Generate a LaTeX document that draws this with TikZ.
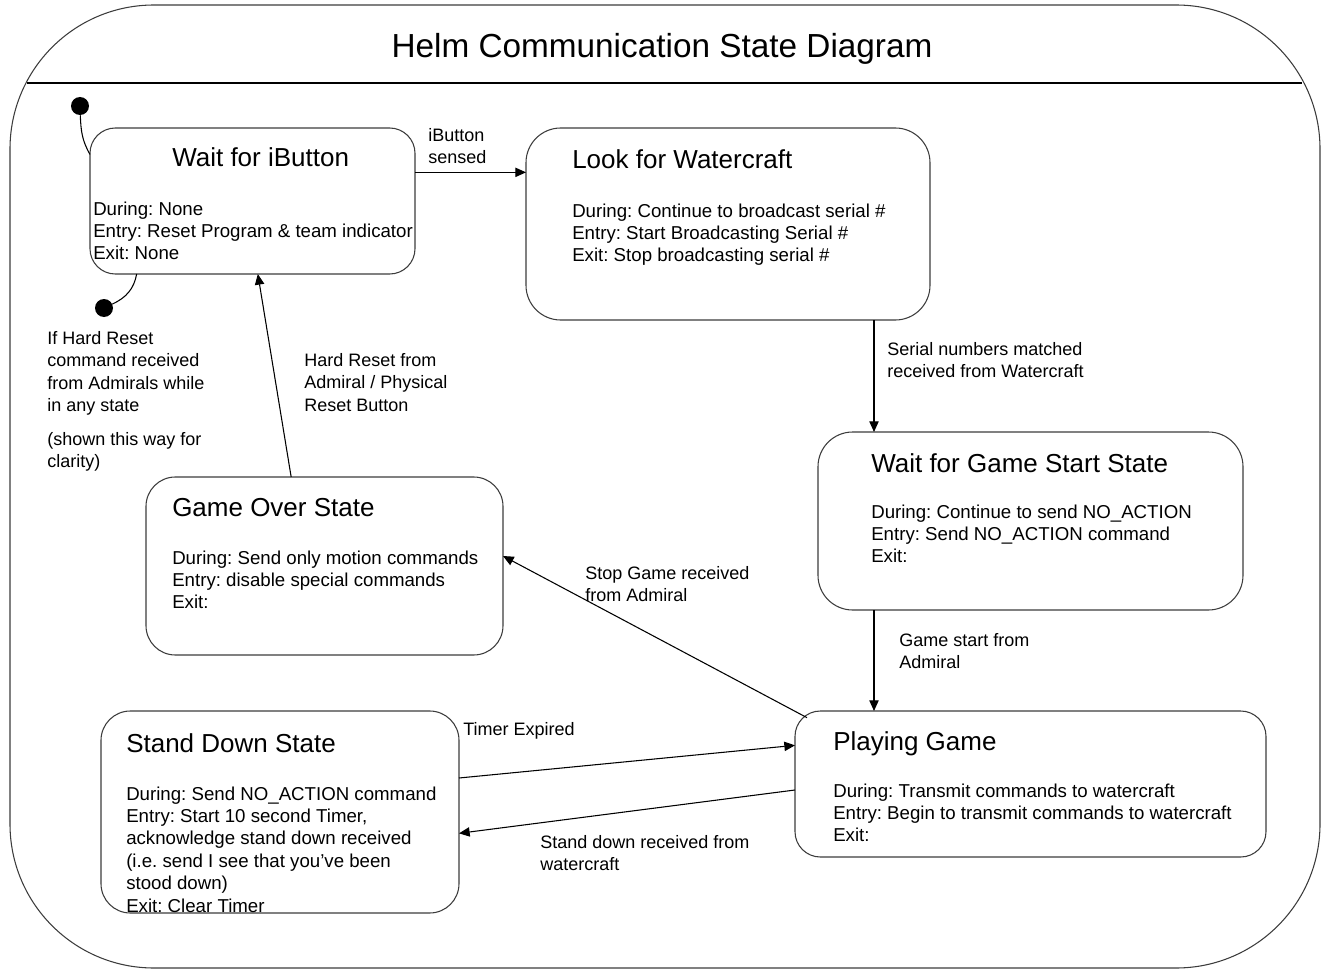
\documentclass[tikz,border=0pt]{standalone}
\usepackage{fontspec}
\setmainfont{Liberation Sans}
\usetikzlibrary{arrows.meta, positioning, calc}
\definecolor{outline}{RGB}{60,60,60}
\frenchspacing

\begin{document}
\begin{tikzpicture}[
    x=0.75pt, y=-0.75pt,
    state/.style={draw=outline, line width=0.8pt, inner sep=0pt, outer sep=0pt},
    statename/.style={anchor=base west, inner sep=0pt, font=\fontsize{19.5}{23}\selectfont},
    statebody/.style={anchor=north west, inner sep=0pt, align=left, font=\fontsize{14}{16.8}\selectfont},
    translabel/.style={anchor=north west, inner sep=0pt, align=left, font=\fontsize{13.5}{16.7}\selectfont},
    arrow/.style={-{Triangle[length=8pt, width=7pt]}, line width=0.8pt},
    initdot/.style={circle, fill=black, inner sep=0pt, minimum size=13.5pt}
]
\useasboundingbox (0,0) rectangle (1325,970);

% frame and header
\draw[outline, line width=0.8pt, rounded corners=108pt] (10,5) rectangle (1320,968);
\draw[line width=0.8pt] (27,83) -- (1302,83);
\node[anchor=base, inner sep=0pt, font=\fontsize{25}{30}\selectfont] (header) at (662,58) {Helm Communication State Diagram};

% states
\node[state, rounded corners=19pt, minimum width=243.75pt, minimum height=109.5pt] (wfib) at (252.5,201) {};
\node[statename] (wfibname) at (172,167) {Wait for iButton};
\node[statebody] (wfibbody) at (93,201.4) {During: None\\Entry: Reset Program \& team indicator\\Exit: None};

\node[state, rounded corners=26pt, minimum width=303pt, minimum height=144pt] (lfw) at (728,224) {};
\node[statename] (lfwname) at (572,169) {Look for Watercraft};
\node[statebody] (lfwbody) at (572,203.4) {During: Continue to broadcast serial \#\\Entry: Start Broadcasting Serial \#\\Exit: Stop broadcasting serial \#};

\node[state, rounded corners=26pt, minimum width=318.75pt, minimum height=133.5pt] (wfgs) at (1030.5,521) {};
\node[statename] (wfgsname) at (871,472) {Wait for Game Start State};
\node[statebody] (wfgsbody) at (871,504.4) {During: Continue to send NO\_ACTION\\Entry: Send NO\_ACTION command\\Exit:};

\node[state, rounded corners=22pt, minimum width=267.75pt, minimum height=133.5pt] (go) at (324.5,566) {};
\node[statename] (goname) at (172,516) {Game Over State};
\node[statebody] (gobody) at (172,550.4) {During: Send only motion commands\\Entry: disable special commands\\Exit:};

\node[state, rounded corners=22pt, minimum width=268.5pt, minimum height=151.5pt] (sd) at (280,812) {};
\node[statename] (sdname) at (126,752) {Stand Down State};
\node[statebody] (sdbody) at (126,786.4) {During: Send NO\_ACTION command\\Entry: Start 10 second Timer,\\acknowledge stand down received\\(i.e. send I see that you’ve been\\stood down)\\Exit: Clear Timer};

\node[state, rounded corners=19pt, minimum width=353.25pt, minimum height=109.5pt] (pg) at (1030.5,784) {};
\node[statename] (pgname) at (833,750) {Playing Game};
\node[statebody] (pgbody) at (833,783.4) {During: Transmit commands to watercraft\\Entry: Begin to transmit commands to watercraft\\Exit:};

% initial / reset pseudo states
\node[initdot] (init1) at (80,106) {};
\node[initdot] (init2) at (104,308) {};
\draw[line width=0.8pt] (init1) to[out=-88, in=120] (wfib.164);
\draw[line width=0.8pt] ([xshift=35pt]wfib.south west) to[out=-100, in=25] (init2);

% transitions
\draw[arrow] (wfib.10) -- (wfib.10 -| lfw.west);
\draw[arrow] ([xshift=42pt]wfgs.north west |- lfw.south) -- ([xshift=42pt]wfgs.north west);
\draw[arrow] ([xshift=42pt]wfgs.south west) -- ([xshift=42pt]wfgs.south west |- pg.north);
\draw[arrow] ([xshift=9pt, yshift=-5pt]pg.north west) -- ([yshift=7.5pt]go.east);
\draw[arrow] ([xshift=-25pt]go.north) -- ([xshift=4pt]wfib.south);
\draw[arrow] ([yshift=25.5pt]sd.east) -- ([yshift=29pt]pg.west);
\draw[arrow] ([yshift=-4.5pt]pg.west) -- ([yshift=-16pt]sd.east);

% labels
\node[translabel] (lblsensed) at (428,128.4) {iButton\\sensed};
\node[translabel] (lblserial) at (887,342.4) {Serial numbers matched\\received from Watercraft};
\node[translabel] (lblstart) at (899,633.4) {Game start from\\Admiral};
\node[translabel] (lblstop) at (585,566.4) {Stop Game received\\from Admiral};
\node[translabel] (lblreset) at (304,353.4) {Hard Reset from\\Admiral / Physical\\Reset Button};
\node[translabel] (lbltimer) at (463,722.4) {Timer Expired};
\node[translabel] (lblstand) at (540,835.4) {Stand down received from\\watercraft};
\node[translabel] (lblnote) at (47,331.4) {If Hard Reset\\command received\\from Admirals while\\in any state};
\node[translabel] (lblclarity) at (47,432.4) {(shown this way for\\clarity)};

\end{tikzpicture}
\end{document}
